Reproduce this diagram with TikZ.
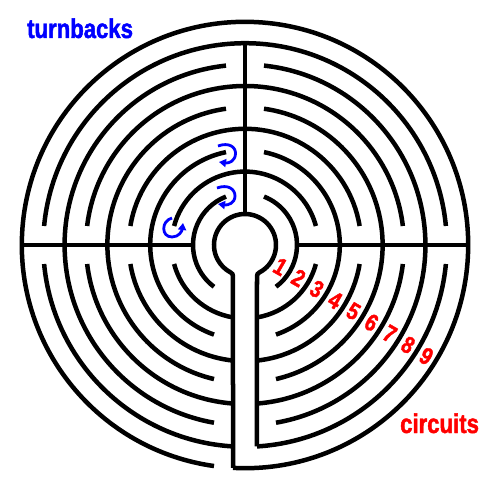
\documentclass[tikz,border=0pt]{standalone}
\usepackage{fontspec}
\newfontfamily\labfont[FakeStretch=0.82,FakeBold=1.6]{Liberation Sans}
\usetikzlibrary{arrows.meta}

\begin{document}
\begin{tikzpicture}[x=1pt,y=1pt,
    wall/.style={line width=4.5pt},
    turn/.style={blue,line width=2.8pt,-{Triangle[length=7pt,width=8pt]}},
    word/.style={inner sep=0pt,font=\labfont\bfseries\fontsize{27}{27}\selectfont},
    num/.style={red,inner sep=0pt,rotate=-30,font=\labfont\bfseries\fontsize{24}{24}\selectfont}]
\useasboundingbox (-245,-245) rectangle (245,245);
\def\gap{19}
\def\half{12}
% circles with gaps at the top and bottom
\foreach \k [evaluate=\k as \r using 52+21.4*(\k-1)] in {1,3,5,7} {
  \draw[wall] ({90+asin(\gap/\r)}:\r pt) arc[start angle={90+asin(\gap/\r)}, end angle={270-asin((\half+\gap)/\r)}, radius=\r pt];
  \draw[wall] ({-90+asin((\half+\gap)/\r)}:\r pt) arc[start angle={-90+asin((\half+\gap)/\r)}, end angle={90-asin(\gap/\r)}, radius=\r pt];
}
% circles with gaps at the sides
\foreach \k [evaluate=\k as \r using 52+21.4*(\k-1)] in {2,4,6,8} {
  \draw[wall] ({asin(\gap/\r)}:\r pt) arc[start angle={asin(\gap/\r)}, end angle={180-asin(\gap/\r)}, radius=\r pt];
  \draw[wall] ({180+asin(\gap/\r)}:\r pt) arc[start angle={180+asin(\gap/\r)}, end angle={270-asin(\half/\r)}, radius=\r pt];
  \draw[wall] ({-90+asin(\half/\r)}:\r pt) arc[start angle={-90+asin(\half/\r)}, end angle={-asin(\gap/\r)}, radius=\r pt];
}
% outer wall with the entrance
\draw[wall] ({-90-asin(\half/223.2)}:223.2pt) arc[start angle={-90-asin(\half/223.2)}, end angle={270-asin((\half+\gap)/223.2)}, radius=223.2pt];
% cross lines
\draw[wall] (-223.2,0) -- (-52,0);
\draw[wall] (52,0) -- (223.2,0);
\draw[wall] (0,31) -- (0,201.8);
% centre and its lane
\draw[wall] ({-90+asin(\half/201.8)}:201.8pt) -- (12,-31.13)
  arc[start angle=180, end angle=117.21, radius=4pt]
  arc[start angle=-62.79, end angle=242.79, radius=31pt]
  arc[start angle=62.79, end angle=0, radius=4pt]
  -- ({-90-asin(\half/223.2)}:223.2pt);
% turnbacks
\draw[turn] (-27,99) .. controls (-16,103) and (-9,98) .. (-9.5,91) .. controls (-10,84) and (-16,81.5) .. (-26,83);
\draw[turn] (-28,57) .. controls (-17,61) and (-10,56) .. (-10,49) .. controls (-10,42) and (-17,39.5) .. (-27,41);
\draw[turn] (-73,27) .. controls (-84,24) and (-84,8) .. (-73,8) .. controls (-66,8) and (-63,14) .. (-62,22);
\node[word,blue,anchor=base west] (turnbacks) at (-218,207) {turnbacks};
\node[word,red,anchor=base west] (circuits) at (155,-188) {circuits};
% circuit numbers
\foreach \n [evaluate=\n as \m using 20.1+21.4*\n] in {1,...,9}
  \node[num] (c\n) at (-31.5:\m pt) {\n};
\end{tikzpicture}
\end{document}
